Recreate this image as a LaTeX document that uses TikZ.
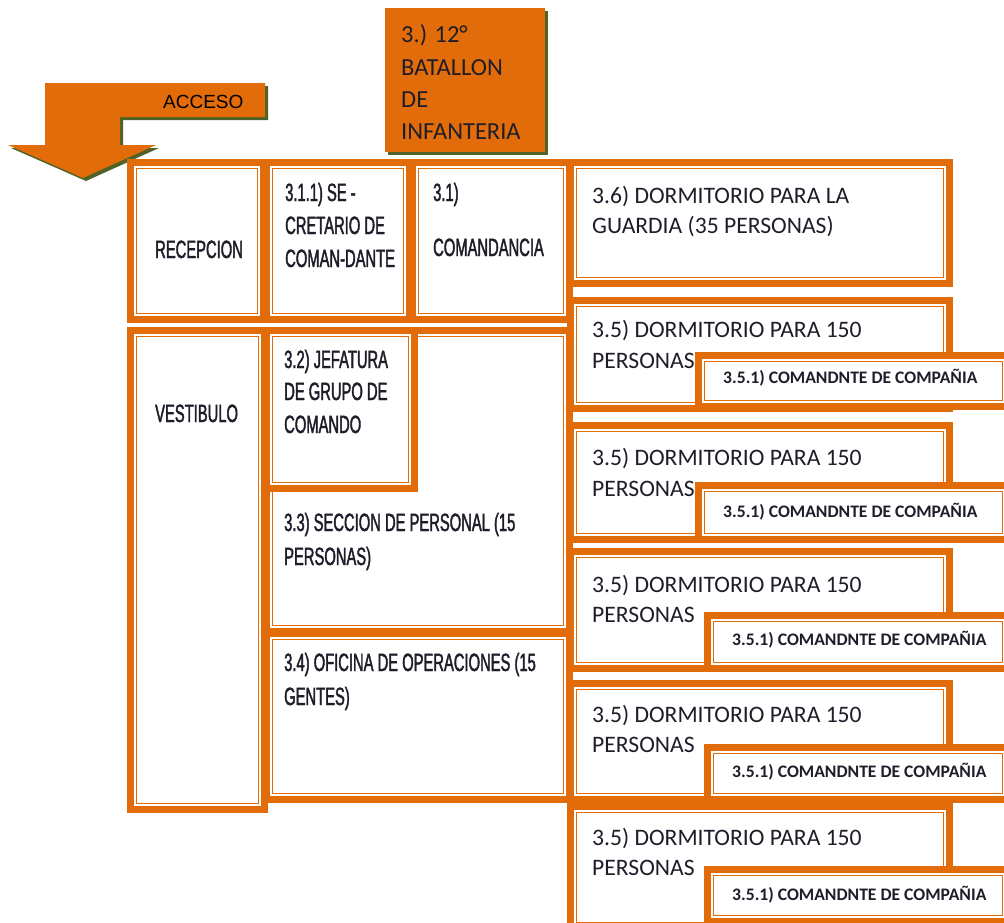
\documentclass[tikz,border=0pt]{standalone}
\usepackage{fontspec}
\setmainfont{Carlito}
\newfontfamily\agency[FakeStretch=0.59,FakeBold=1.6]{Liberation Sans}
\newfontfamily\arialf{Liberation Sans}
\usetikzlibrary{shadows}
\definecolor{orng}{HTML}{E36C0A}
\definecolor{shad}{HTML}{4F6228}
\definecolor{ink}{HTML}{1E1E2A}
\tikzset{
  room/.style={rectangle, draw=orng, line width=7pt, fill=white, inner sep=0pt, outer sep=0pt,
    path picture={\draw[orng, line width=1.3pt]
      ([shift={(6pt,-6pt)}]path picture bounding box.north west) rectangle
      ([shift={(-6pt,6pt)}]path picture bounding box.south east);}},
  oshadow/.style={drop shadow={shadow xshift=3pt, shadow yshift=-3pt, fill=shad, opacity=1}},
  ag/.style={font=\agency\fontsize{25}{25}\selectfont, text=ink, anchor=base west, inner sep=0pt},
  cal/.style={font=\fontsize{23.6}{23.6}\selectfont, text=ink, anchor=base west, inner sep=0pt},
  ttl/.style={font=\fontsize{24.5}{24.5}\selectfont, text=ink, anchor=base west, inner sep=0pt},
  sub/.style={font=\bfseries\fontsize{17.6}{17.6}\selectfont, text=ink, anchor=base west, inner sep=0pt},
  arl/.style={font=\arialf\fontsize{19}{19}\selectfont, text=black, anchor=base west, inner sep=0pt},
}
\newcommand\RoomBox[5]{\node[room, minimum width={(#4-#2-7)*1pt}, minimum height={(#5-#3-7)*1pt}] (#1) at ({(#2+#4)/2},{(#3+#5)/2}) {};}
\newcommand\Txt[5]{\node[#2] (#1) at (#3,#4) {#5};}
\begin{document}
\begin{tikzpicture}[x=1pt,y=-1pt]
\useasboundingbox (0,0) rectangle (1004,922);
\clip (0,0) rectangle (1004,922);
\fill[white] (0,0) rectangle (1004,922);
% access arrow
\path[fill=orng, oshadow] (45,83) -- (265,83) -- (265,117) -- (120,117) -- (120,145) -- (156,145) -- (83,178) -- (8,145) -- (45,145) -- cycle;
\Txt{acceso}{arl}{163}{108}{ACCESO}
% title box
\node[rectangle, fill=orng, oshadow, minimum width=160pt, minimum height=144pt, inner sep=0pt] (title) at (465,80) {};
\Txt{t1}{ttl}{401}{42}{3.) 12°}
\Txt{t2}{ttl}{401}{75}{BATALLON}
\Txt{t3}{ttl}{401}{107}{DE}
\Txt{t4}{ttl}{401}{139}{INFANTERIA}
% top row
\RoomBox{recep}{127}{159}{267}{323}
\RoomBox{secr}{263}{159}{413}{323}
\RoomBox{comand}{409}{159}{573}{323}
\RoomBox{guard}{567}{159}{953}{287}
% lower left
\RoomBox{vest}{127}{327}{268}{813}
\RoomBox{pers}{263}{327}{573}{635}
\RoomBox{jef}{263}{327}{418}{492}
\RoomBox{ofic}{263}{630}{573}{803}
% dormitories
\RoomBox{d1}{567}{297}{953}{412}
\RoomBox{c1}{695}{352}{1012}{410}
\RoomBox{d2}{567}{422}{953}{543}
\RoomBox{c2}{695}{482}{1012}{543}
\RoomBox{d3}{567}{548}{953}{672}
\RoomBox{c3}{704}{612}{1012}{672}
\RoomBox{d4}{567}{680}{953}{803}
\RoomBox{c4}{704}{744}{1012}{803}
\RoomBox{d5}{567}{803}{953}{932}
\RoomBox{c5}{704}{866}{1012}{925}
% texts
\Txt{recepT}{ag}{155}{258}{RECEPCION}
\Txt{secrA}{ag}{285}{201}{3.1.1) SE -}
\Txt{secrB}{ag}{285}{234}{CRETARIO DE}
\Txt{secrC}{ag}{285}{267}{COMAN-DANTE}
\Txt{comA}{ag}{433}{201}{3.1)}
\Txt{comB}{ag}{433}{256}{COMANDANCIA}
\Txt{vestT}{ag}{155}{422}{VESTIBULO}
\Txt{jefA}{ag}{284}{368}{3.2) JEFATURA}
\Txt{jefB}{ag}{284}{400}{DE GRUPO DE}
\Txt{jefC}{ag}{284}{433}{COMANDO}
\Txt{persA}{ag}{284}{531}{3.3) SECCION DE PERSONAL (15}
\Txt{persB}{ag}{284}{565}{PERSONAS)}
\Txt{oficA}{ag}{284}{671}{3.4) OFICINA DE OPERACIONES (15}
\Txt{oficB}{ag}{284}{705}{GENTES)}
\Txt{guardA}{cal}{592}{203}{3.6) DORMITORIO PARA LA}
\Txt{guardB}{cal}{592}{233}{GUARDIA (35 PERSONAS)}
\Txt{d1A}{cal}{592}{337}{3.5) DORMITORIO PARA 150}
\Txt{d1B}{cal}{592}{368}{PERSONAS}
\Txt{d2A}{cal}{592}{465}{3.5) DORMITORIO PARA 150}
\Txt{d2B}{cal}{592}{496}{PERSONAS}
\Txt{d3A}{cal}{592}{592}{3.5) DORMITORIO PARA 150}
\Txt{d3B}{cal}{592}{622}{PERSONAS}
\Txt{d4A}{cal}{592}{722}{3.5) DORMITORIO PARA 150}
\Txt{d4B}{cal}{592}{752}{PERSONAS}
\Txt{d5A}{cal}{592}{845}{3.5) DORMITORIO PARA 150}
\Txt{d5B}{cal}{592}{875}{PERSONAS}
\Txt{c1T}{sub}{723}{383}{3.5.1) COMANDNTE DE COMPAÑIA}
\Txt{c2T}{sub}{723}{517}{3.5.1) COMANDNTE DE COMPAÑIA}
\Txt{c3T}{sub}{732}{645}{3.5.1) COMANDNTE DE COMPAÑIA}
\Txt{c4T}{sub}{732}{777}{3.5.1) COMANDNTE DE COMPAÑIA}
\Txt{c5T}{sub}{732}{900}{3.5.1) COMANDNTE DE COMPAÑIA}
\end{tikzpicture}
\end{document}
